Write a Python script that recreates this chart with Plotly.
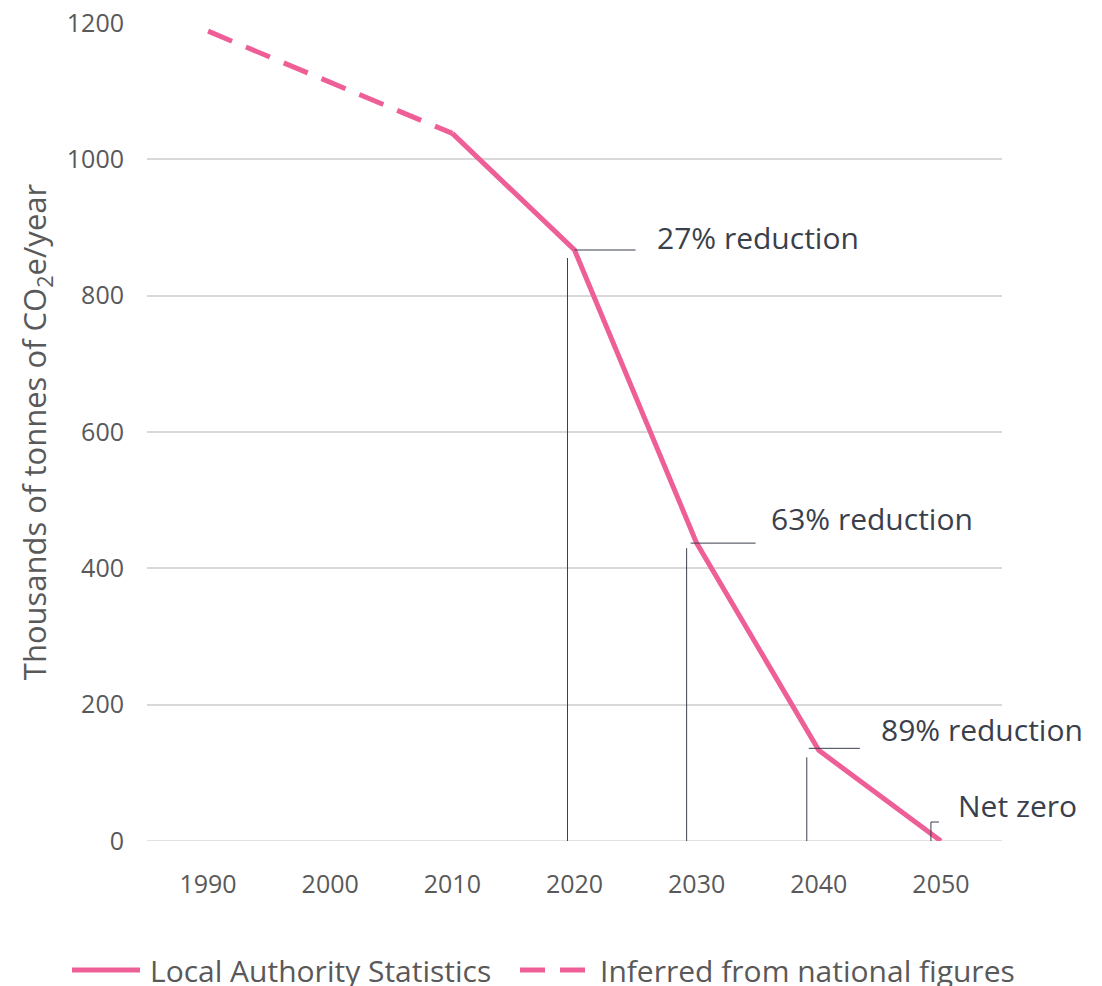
import plotly.graph_objects as go

# Emissions pathway, thousands of tonnes CO2e per year
years = ["1990", "2000", "2010", "2020", "2030", "2040", "2050"]
local_stats = [None, None, 1038, 867, 437, 133, 0]
inferred = [1188, 1113, 1038, None, None, None, None]

# Milestone labels attached to the pathway
label_years = ["2020", "2030", "2040", "2050"]
label_texts = ["27% reduction", "63% reduction", "89% reduction", "Net zero"]

# Leader-line geometry per label, in pixels relative to the data point:
# (drop x, drop gap below point, leader x0, leader x1, leader dy, text dx, text dy)
label_style = [
    (-7, 8, 0, 61, 0, 80, 13),
    (-10, 5, -6, 59, 0, 72, 25),
    (-12, 7, -10, 41, 2, 60, 21),
    (-10, 0, -10, -2, 19, 15, 36),
]

PINK = "#EE5F98"
FONT = "Open Sans, Segoe UI, sans-serif"
TICK_GREY = "#595959"
TEXT_DARK = "#3A3F4C"

W, H = 1102, 986
Y_MAX = 1200
PLOT_LEFT, PLOT_RIGHT = 147, 1002
PLOT_TOP, PLOT_BOTTOM = 23, 841
PX_PER_UNIT = (PLOT_BOTTOM - PLOT_TOP) / Y_MAX


def paper_x(px):
    return (px - PLOT_LEFT) / (PLOT_RIGHT - PLOT_LEFT)


def paper_y(py):
    return (PLOT_BOTTOM - py) / (PLOT_BOTTOM - PLOT_TOP)


fig = go.Figure()
fig.add_trace(go.Scatter(
    x=years, y=local_stats, mode="lines", name="Local Authority Statistics",
    line=dict(color=PINK, width=5), connectgaps=False,
))
fig.add_trace(go.Scatter(
    x=years, y=inferred, mode="lines", name="Inferred from national figures",
    line=dict(color=PINK, width=5, dash="26px,15px"), connectgaps=False,
))

val_by_year = dict(zip(years, local_stats))
for yr, txt, st in zip(label_years, label_texts, label_style):
    v = val_by_year[yr]
    i = years.index(yr)
    drop_x, gap, lx0, lx1, ldy, tdx, tdy = st
    leader_y = v + ldy / PX_PER_UNIT
    drop_top = v - gap / PX_PER_UNIT if v > 0 else leader_y
    # vertical drop line from the axis up toward the point
    fig.add_shape(type="line", xref="x", yref="y", xsizemode="pixel", xanchor=i,
                  x0=drop_x, x1=drop_x, y0=0, y1=drop_top,
                  line=dict(color=TEXT_DARK, width=1))
    # horizontal leader toward the label
    fig.add_shape(type="line", xref="x", yref="y", xsizemode="pixel", xanchor=i,
                  x0=lx0, x1=lx1, y0=leader_y, y1=leader_y,
                  line=dict(color=TEXT_DARK, width=1))
    fig.add_annotation(x=i, y=v, xref="x", yref="y", text=txt, showarrow=False,
                       xanchor="left", yanchor="middle", xshift=tdx, yshift=tdy,
                       font=dict(family=FONT, size=30, color=TEXT_DARK))

# Legend row below the axis: line samples plus series names
LEG_Y = 970
legend_items = [
    ("Local Authority Statistics", None, 72, 140, 148),
    ("Inferred from national figures", "25px,15px", 520, 585, 598),
]
for name, dash, s0, s1, tx in legend_items:
    fig.add_shape(type="line", xref="paper", yref="paper",
                  x0=paper_x(s0), x1=paper_x(s1),
                  y0=paper_y(LEG_Y), y1=paper_y(LEG_Y),
                  line=dict(color=PINK, width=5, dash=dash or "solid"))
    fig.add_annotation(x=paper_x(tx), y=paper_y(LEG_Y), xref="paper", yref="paper",
                       text=name, showarrow=False, xanchor="left", yanchor="middle",
                       font=dict(family=FONT, size=30, color=TICK_GREY))

fig.update_layout(
    width=W, height=H,
    margin=dict(l=PLOT_LEFT, r=W - PLOT_RIGHT, t=PLOT_TOP, b=H - PLOT_BOTTOM,
                autoexpand=False),
    paper_bgcolor="white", plot_bgcolor="white",
    font=dict(family=FONT, color=TICK_GREY),
    showlegend=False,
    xaxis=dict(type="category", showgrid=False, showline=False, zeroline=False,
               ticks="", tickfont=dict(size=25, color=TICK_GREY),
               ticklabelstandoff=26, range=[-0.5, 6.5]),
    yaxis=dict(range=[0, Y_MAX], tickvals=[0, 200, 400, 600, 800, 1000, 1200],
               showgrid=True, gridcolor="#D9D9D9", gridwidth=1.5,
               zeroline=False, showline=False, ticks="",
               tickfont=dict(size=25, color=TICK_GREY), ticklabelstandoff=22,
               title=dict(text="Thousands of tonnes of CO<sub>2</sub>e/year",
                          font=dict(size=31, color=TICK_GREY), standoff=10)),
)
fig.add_hline(y=0, line=dict(color="#D9D9D9", width=1.5), layer="below")

fig.write_html("out.html")
